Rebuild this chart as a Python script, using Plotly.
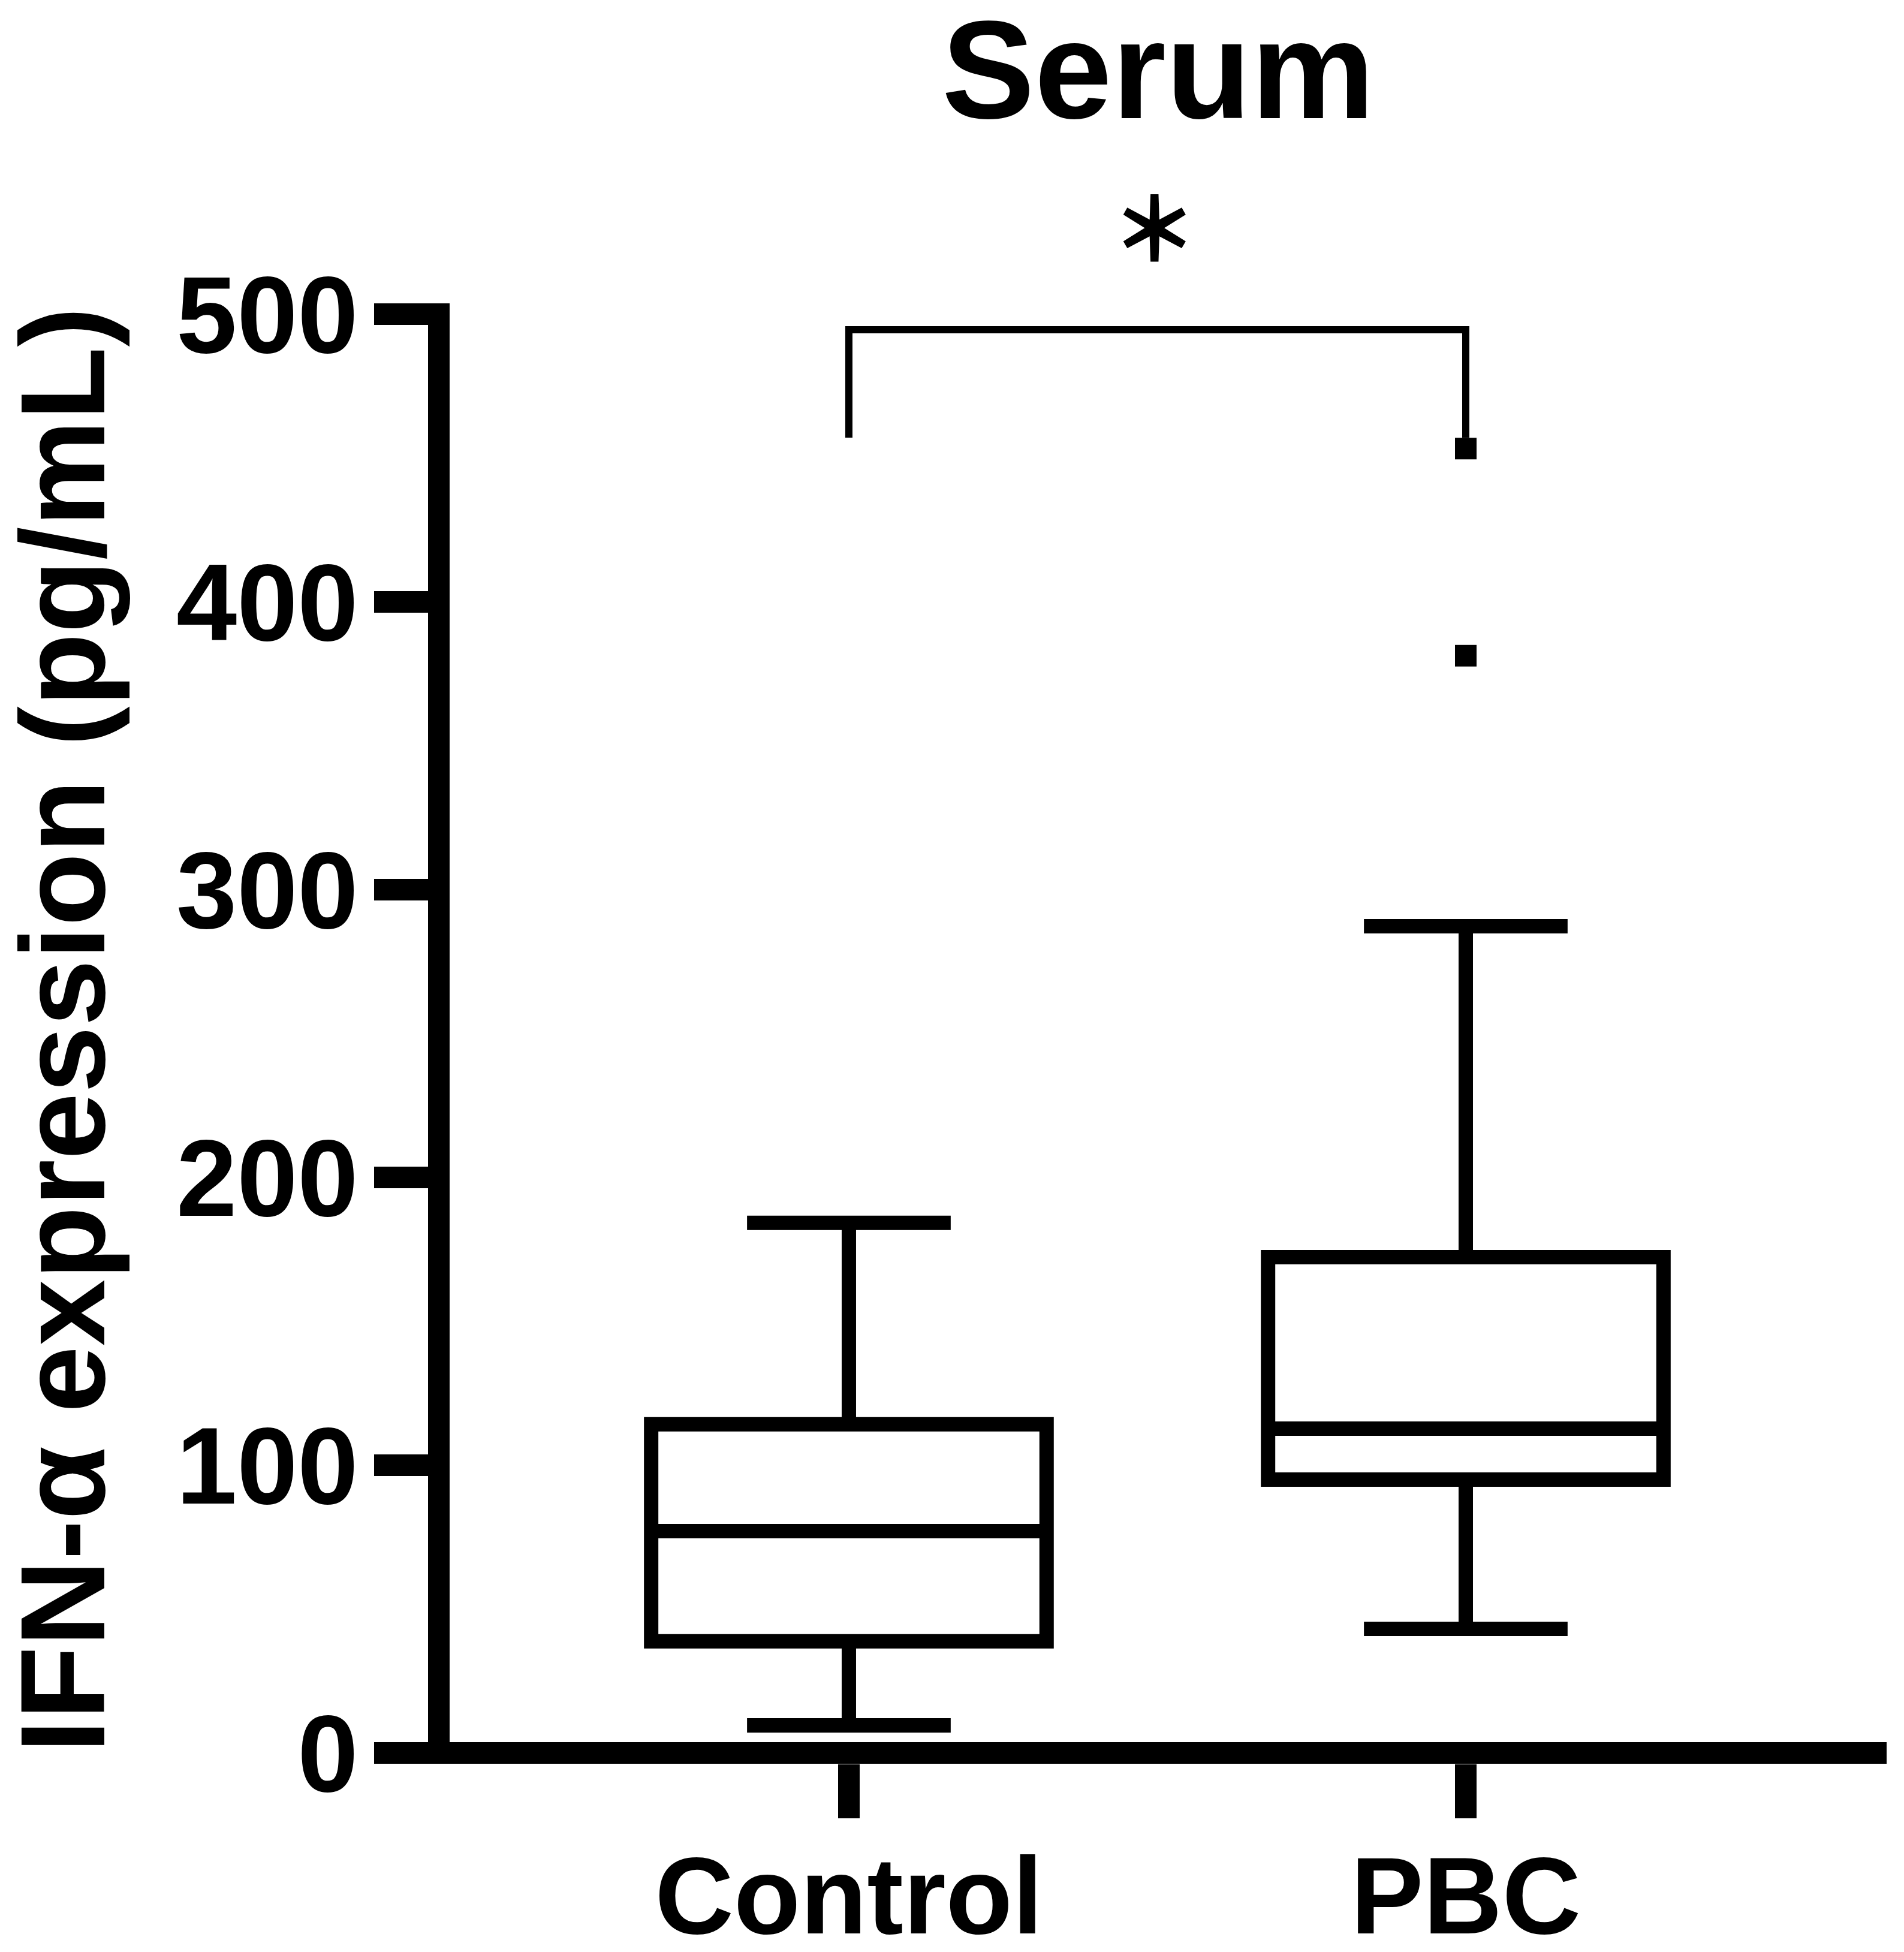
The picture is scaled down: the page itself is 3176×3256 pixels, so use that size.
import plotly.graph_objects as go

# ---- data ----
categories = ["Control", "PBC"]
cat_pos = [0, 1]
q1 = [38.8, 95.0]
median = [77.1, 112.7]
q3 = [114.2, 172.3]
lowerfence = [9.6, 43.1]
upperfence = [184.2, 287.3]
outlier_x = [1, 1]
outlier_y = [453.3, 381.3]
y_ticks = [0, 100, 200, 300, 400, 500]
bracket_low = 457.1
bracket_top = 494.6
sig_label = "\uff0a"   # six-armed asterisk glyph
title_text = "Serum"
y_title = "IFN-α expression (pg/mL)"

FONT = "Liberation Sans, Arial, sans-serif"

# page body has an 8px margin; figure is sized to fit the window exactly
W, H = 3160, 3240
L, T = 742, 498
R, B = 21, 306

fig = go.Figure()

fig.add_trace(go.Box(
    x=cat_pos, q1=q1, median=median, q3=q3,
    lowerfence=lowerfence, upperfence=upperfence,
    width=0.641, whiskerwidth=0.515,
    line=dict(color="black", width=24),
    fillcolor="white", boxpoints=False, showlegend=False,
    hoverinfo="skip",
))

fig.add_trace(go.Scatter(
    x=outlier_x, y=outlier_y, mode="markers",
    marker=dict(symbol="square", size=36, color="black", line=dict(width=0)),
    showlegend=False, hoverinfo="skip", cliponaxis=False,
))

# significance bracket
fig.add_trace(go.Scatter(
    x=[cat_pos[0], cat_pos[0], cat_pos[1], cat_pos[1]],
    y=[bracket_low, bracket_top, bracket_top, bracket_low],
    mode="lines", line=dict(color="black", width=12),
    showlegend=False, hoverinfo="skip", cliponaxis=False,
))

fig.add_annotation(x=0.4902, y=1.0548, xref="paper", yref="paper",
                   text=sig_label, showarrow=False, xanchor="center", yanchor="middle",
                   font=dict(family="Noto Sans CJK SC", size=145, color="black", weight=900))

fig.add_annotation(x=0.4931, y=1.1597, xref="paper", yref="paper",
                   text=title_text, showarrow=False, xanchor="center", yanchor="middle",
                   font=dict(family=FONT, size=232, color="black", weight="bold"))

fig.add_annotation(x=-0.2691, y=0.5025, xref="paper", yref="paper", textangle=-90,
                   text=y_title, showarrow=False, xanchor="center", yanchor="middle",
                   font=dict(family=FONT, size=200, color="black", weight="bold"))

fig.update_layout(
    width=W, height=H,
    margin=dict(l=L, r=R, t=T, b=B, pad=0, autoexpand=False),
    paper_bgcolor="white", plot_bgcolor="white",
    font=dict(family=FONT, color="black"),
    showlegend=False,
)

fig.update_xaxes(
    range=[-0.6472, 1.6822], tickvals=cat_pos, ticktext=categories,
    showline=False, showgrid=False, zeroline=False, automargin=False,
    ticks="outside", ticklen=90, tickwidth=36, tickcolor="black",
    ticklabelstandoff=-26,
    tickfont=dict(family=FONT, size=182, color="black", weight="bold"),
)

fig.update_yaxes(
    range=[-3.75, 503.75], tickvals=y_ticks,
    showline=True, linewidth=36, linecolor="black", automargin=False,
    showgrid=False, zeroline=True, zerolinewidth=36, zerolinecolor="black",
    ticks="outside", ticklen=90, tickwidth=36, tickcolor="black",
    ticklabelstandoff=-10,
    tickfont=dict(family=FONT, size=182, color="black", weight="bold"),
)

fig.write_html("out.html")
